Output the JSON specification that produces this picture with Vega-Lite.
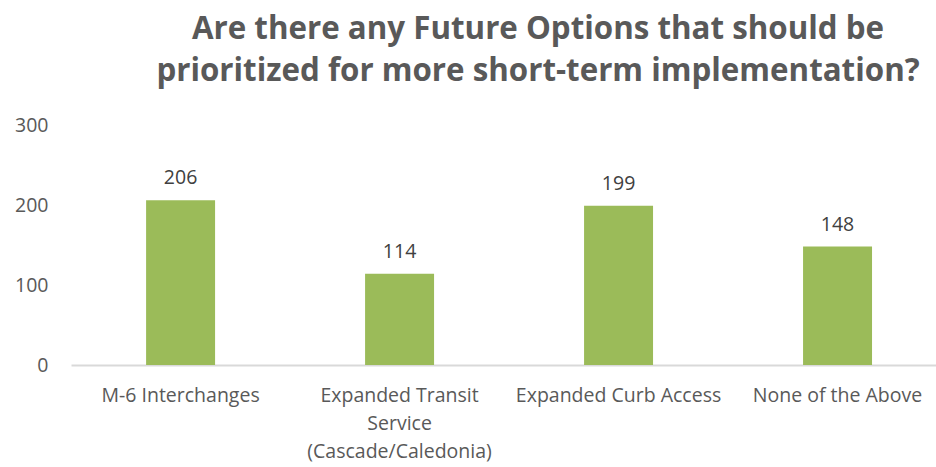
{
  "$schema": "https://vega.github.io/schema/vega-lite/v6.json",
  "width": 865,
  "height": 240,
  "autosize": {"type": "none"},
  "padding": {"left": 71, "top": 125, "right": 0, "bottom": 102},
  "background": "white",
  "title": {
    "text": ["Are there any Future Options that should be", "prioritized for more short-term implementation?"],
    "font": "Open Sans",
    "fontSize": 31.3,
    "fontWeight": "bold",
    "color": "#595959",
    "lineHeight": 42,
    "anchor": "middle",
    "dx": 34.5,
    "offset": 28
  },
  "config": {
    "view": {"stroke": null},
    "font": "Open Sans"
  },
  "data": {
    "values": [
      {"option": "M-6 Interchanges", "count": 206},
      {"option": "Expanded Transit|Service|(Cascade/Caledonia)", "count": 114},
      {"option": "Expanded Curb Access", "count": 199},
      {"option": "None of the Above", "count": 148}
    ]
  },
  "encoding": {
    "x": {
      "field": "option",
      "type": "nominal",
      "sort": null,
      "scale": {"paddingInner": 0.685, "paddingOuter": 0.3175, "align": 0.54},
      "axis": {
        "title": null,
        "labelAngle": 0,
        "labelExpr": "split(datum.label, '|')",
        "labelFont": "Open Sans",
        "labelFontSize": 19.5,
        "labelColor": "#595959",
        "labelLineHeight": 28,
        "labelPadding": 21,
        "labelLimit": 300,
        "ticks": false,
        "domainColor": "#d9d9d9",
        "domainWidth": 2
      }
    },
    "y": {
      "field": "count",
      "type": "quantitative",
      "scale": {"domain": [0, 300]},
      "axis": {
        "title": null,
        "values": [0, 100, 200, 300],
        "grid": false,
        "domain": false,
        "ticks": false,
        "labelFont": "Open Sans",
        "labelFontSize": 19.5,
        "labelColor": "#595959",
        "labelPadding": 23
      }
    }
  },
  "layer": [
    {"mark": {"type": "bar", "color": "#9BBB59"}},
    {
      "mark": {"type": "text", "baseline": "bottom", "dy": -12, "font": "Open Sans", "fontSize": 19.5, "color": "#404040"},
      "encoding": {"text": {"field": "count", "type": "quantitative"}}
    }
  ]
}
